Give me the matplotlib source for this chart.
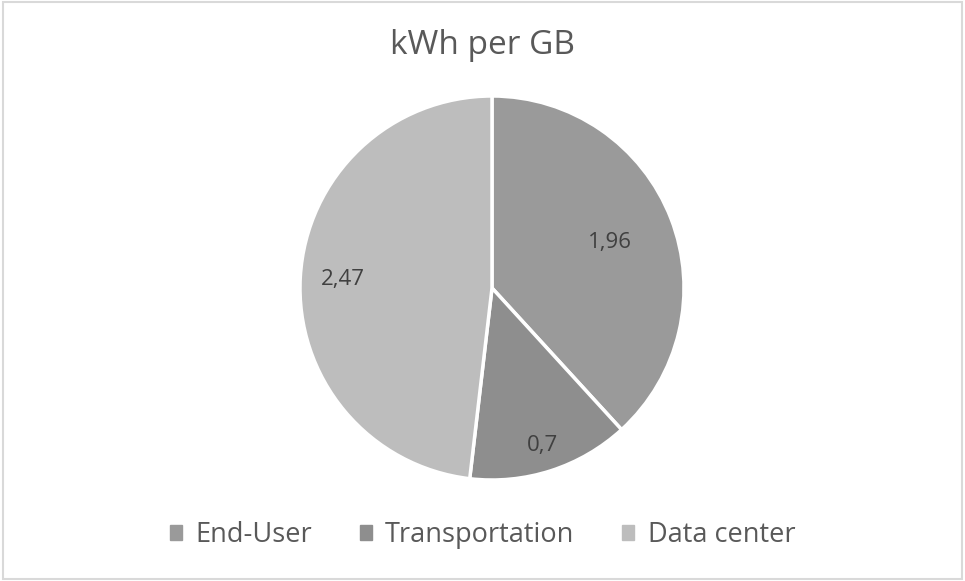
import numpy as np
import matplotlib.pyplot as plt
from matplotlib.patches import Rectangle

labels = ["End-User", "Transportation", "Data center"]
values = [1.96, 0.7, 2.47]
value_text = ["1,96", "0,7", "2,47"]
colors = ["#9a9a9a", "#8e8e8e", "#bdbdbd"]

plt.rcParams['font.family'] = ['Open Sans', 'DejaVu Sans']

W, H = 965, 581
fig = plt.figure(figsize=(W / 100, H / 100), dpi=100)

# pie centre and radius in pixels
cx, cy, r = 492, 288, 192
ax = fig.add_axes([(cx - r) / W, 1 - (cy + r) / H, 2 * r / W, 2 * r / H])

ax.pie(values, colors=colors, startangle=90, counterclock=False, radius=1.0,
       wedgeprops=dict(edgecolor="white", linewidth=2.5))
ax.set_aspect("equal")
ax.set_xlim(-1, 1)
ax.set_ylim(-1, 1)

# data labels, each at its own distance from the centre
label_dist = [0.66, 0.86, 0.78]
total = sum(values)
start = 90.0
for v, t, d in zip(values, value_text, label_dist):
    span = v / total * 360
    a = np.deg2rad(start - span / 2)
    start -= span
    ax.text(d * np.cos(a), d * np.sin(a), t, ha="center", va="center",
            fontsize=16, color="#404040")

fig.text(0.5, 1 - 45 / H, "kWh per GB", ha="center", va="center",
         fontsize=24, color="#595959")

handles = [Rectangle((0, 0), 1, 1, color=c) for c in colors]
fig.legend(handles, labels, loc="center", bbox_to_anchor=(0.5, 1 - 535 / H),
           ncol=3, frameon=False, fontsize=19.5, labelcolor="#595959",
           handlelength=0.45, handleheight=0.45, handletextpad=0.5,
           columnspacing=1.75)

fig.patches.append(Rectangle((0.003, 0.003), 0.994, 0.994, transform=fig.transFigure,
                             fill=False, edgecolor="#d9d9d9", linewidth=1.5))

fig.savefig("out.png", dpi=100)
